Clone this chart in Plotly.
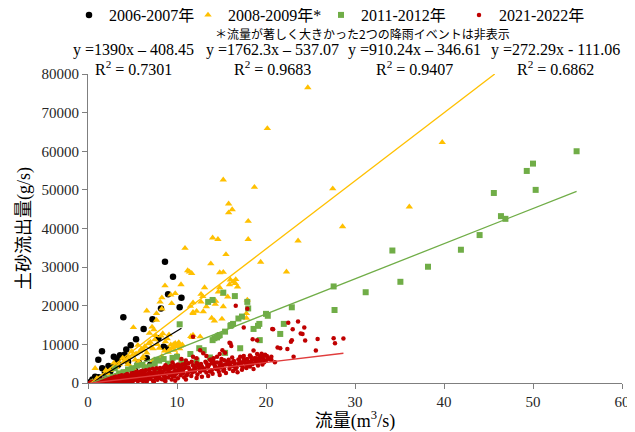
import plotly.graph_objects as go

# ---------------- data ----------------
series_names = ["2006-2007年", "2008-2009年*", "2011-2012年", "2021-2022年"]

black_x = [8.65, 9.55, 9.0, 10.5, 8.2, 10.3, 3.97, 7.25, 6.25, 5.4, 4.8, 4.3, 1.57, 1.16, 2.9, 3.8, 3.3, 2.3,
           1.6, 8.5, 8.8, 7.9, 6.6, 5.7, 4.5, 3.4, 2.7, 1.9, 0.8, 0.5, 5.3, 7.0, 4.1, 3.6, 0.3, 1.2, 2.5]
black_y = [31400, 27500, 23000, 22100, 19300, 19600, 17000, 16500, 14000, 11300, 9800, 8700, 8200, 6000, 6800,
           6800, 6000, 4400, 3800, 9400, 8900, 11600, 6400, 5300, 5500, 4700, 4100, 2700, 1600, 900, 3200, 4700,
           7300, 7200, 300, 1500, 3000]

yellow_x = [24.7, 20.15, 39.8, 15.2, 18.7, 27.5, 15.8, 16.2, 15.8, 36.1, 18.0, 28.6, 14.0, 14.6, 18.0, 23.6,
            10.9, 15.5, 13.8, 19.4, 11.2, 11.4, 11.65, 14.8, 15.2, 22.3, 8.65, 10.45, 9.8, 16.0, 16.3, 16.55,
            16.8, 16.6, 15.9, 14.8, 14.65, 12.7, 13.1, 15.7, 15.2, 17.9, 12.7, 12.9, 11.5, 11.8, 14.35, 14.3,
            8.3, 9.3, 9.4, 8.1, 8.3, 6.6, 7.7, 7.7, 11.8, 12.2, 13.3, 12.95, 15.2, 13.9, 14.2, 15.05, 17.8, 17.8,
            11.8, 11.8, 12.6, 5.1, 7.2, 7.4, 6.9, 8.2, 8.4, 9.6, 9.8, 10.1, 10.4, 10.6, 10.2, 9.9, 11.7, 11.55,
            9.3, 9.5, 7.3, 7.1, 6.3, 6.6, 6.1, 6.2, 5.7, 5.9, 4.8, 5.1, 4.4, 3.7, 3.0, 2.7, 1.9, 1.6, 0.8, 1.0,
            2.2, 2.5, 3.2, 3.5, 4.0, 4.3, 4.6, 5.0, 5.4, 5.8, 6.0, 6.4, 6.8, 7.0, 7.5, 7.8, 8.0, 8.6, 9.0, 9.2,
            8.7, 8.9, 9.1, 7.6, 5.6, 4.9, 3.9, 2.9, 2.0, 0.5, 0.3, 6.5, 7.3, 8.3, 9.7, 10.3, 10.0, 5.3, 4.5]
yellow_y = [76500, 65900, 62300, 52600, 50700, 50300, 46400, 44900, 44100, 45600, 41900, 40500, 37600, 37200,
            37200, 36800, 34900, 33300, 30900, 31300, 29100, 28800, 28400, 28600, 28700, 28800, 25200, 25500,
            23200, 26700, 26200, 25800, 24900, 26800, 25500, 24700, 23600, 23000, 24700, 22300, 23000, 21500,
            21000, 22400, 19900, 20800, 21200, 20400, 22100, 22800, 20600, 21000, 19200, 18700, 16300, 18000,
            18300, 18600, 19800, 18500, 19800, 16800, 16100, 16600, 18000, 16800, 18000, 12400, 12000, 14400,
            14500, 13800, 12900, 12200, 12800, 10000, 10300, 10000, 9600, 9900, 10500, 9500, 11800, 12100, 9900,
            9200, 8900, 9200, 8600, 7800, 6300, 6800, 5500, 5000, 4200, 3800, 3300, 2500, 1800, 1400, 700, 400,
            3800, 1200, 2500, 3300, 4000, 4800, 5500, 6000, 6700, 7200, 7600, 8100, 8800, 9500, 10200, 10600,
            11200, 10000, 9000, 8300, 8000, 8700, 10700, 11500, 12500, 12300, 9800, 8200, 6500, 5200, 3300, 400,
            150, 4200, 5800, 6900, 8500, 8900, 7300, 6000, 4800]

green_x = [54.9, 50.0, 49.3, 50.3, 45.6, 46.4, 46.9, 44.0, 41.9, 34.2, 38.2, 35.1, 31.2, 27.6, 27.7, 22.0, 22.9,
           20.0, 20.2, 19.25, 19.1, 18.6, 21.6, 19.3, 17.9, 18.0, 16.9, 17.3, 16.3, 16.1, 16.0, 15.2, 16.5, 13.5,
           14.0, 14.8, 14.5, 14.65, 15.4, 14.0, 14.2, 17.1, 15.4, 13.0, 13.7, 12.2, 10.3, 10.8, 6.1, 6.4, 7.7,
           3.0, 2.0, 2.8, 3.5, 4.0, 4.5, 5.0, 5.5, 7.0, 7.5, 8.0, 8.5, 9.0, 9.5, 10.0, 10.5, 1.2, 0.8, 6.2, 7.8,
           11.5, 12.5]
green_y = [60000, 56800, 54900, 50000, 49200, 43200, 42500, 38300, 34500, 34300, 30100, 26200, 23500, 25000,
           18900, 15300, 19600, 17900, 17400, 15300, 14800, 14000, 12700, 11100, 21000, 19300, 16700, 17200,
           15300, 15000, 14800, 23400, 22500, 21000, 21500, 12400, 11800, 12200, 13300, 11100, 11600, 9000,
           7800, 8500, 6600, 5800, 15200, 4600, 4700, 4000, 6000, 3800, 1200, 1600, 2500, 2800, 3500, 3800,
           4500, 4300, 5000, 5800, 6200, 5000, 6500, 6800, 5500, 500, 300, 2800, 3200, 7500, 9000]

red_x = [0.2, 0.4, 0.5, 0.6, 0.8, 0.9, 1.0, 1.1, 1.2, 1.3, 1.4, 1.5, 1.6, 1.7, 1.8, 1.9, 2.0, 2.1, 2.2, 2.3,
         2.4, 2.5, 2.6, 2.7, 2.8, 2.9, 3.0, 3.1, 3.2, 3.3, 3.4, 3.5, 3.6, 3.7, 3.8, 3.9, 4.0, 4.1, 4.2, 4.3,
         4.4, 4.5, 4.6, 4.7, 4.8, 4.9, 5.0, 5.1, 5.2, 5.3, 5.4, 5.5, 5.6, 5.7, 5.8, 5.9, 6.0, 6.1, 6.2, 6.3,
         6.4, 6.5, 6.6, 6.7, 6.8, 6.9, 7.0, 7.1, 7.2, 7.3, 7.4, 7.5, 7.6, 7.7, 7.8, 7.9, 8.0, 8.1, 8.2, 8.3,
         8.4, 8.5, 8.6, 8.7, 8.8, 8.9, 9.0, 9.1, 9.2, 9.3, 9.4, 9.5, 9.6, 9.7, 9.8, 9.9, 10.0, 10.1, 10.2,
         10.3, 10.4, 10.5, 10.6, 10.7, 10.8, 10.9, 11.0,
         11.2, 11.4, 11.6, 11.8, 12.0, 12.2, 12.3, 12.5, 12.7, 12.8, 13.0, 13.2, 13.3, 13.5, 13.7, 13.8, 14.0,
         14.2, 14.4, 14.5, 14.7, 14.9, 15.0, 15.2, 15.4, 15.5, 15.7, 15.9, 16.0, 16.2, 16.3, 16.5, 16.7, 16.8,
         17.0, 17.2, 17.3, 17.5, 17.7, 17.8, 18.0, 18.2, 18.3, 18.5, 18.6, 18.8, 19.0, 19.1, 19.3, 19.4, 19.6,
         19.7, 19.9, 20.0, 20.2, 19.5, 18.9, 18.4, 17.9, 17.4, 16.9, 16.4, 15.8, 15.3, 14.8, 14.3, 13.9, 13.4,
         12.9, 12.4, 11.9, 11.3,
         11.8, 16.0, 16.6, 17.9, 17.5, 20.7, 23.6, 22.5, 18.5, 21.3, 22.4, 15.9, 16.1, 15.1, 15.4, 14.8, 14.5,
         14.1, 12.6, 12.95, 13.3, 13.7, 12.2, 11.8, 11.65, 24.3, 24.1, 24.4, 22.8, 25.8, 27.6, 27.75, 28.7,
         25.6, 23.1, 17.1, 17.5, 18.2, 19.0, 10.5, 9.5, 8.7, 11.0, 20.6, 21.0, 20.8, 23.0, 22.9, 23.9, 21.6,
         19.8, 18.6, 19.0,
         0.3, 0.7, 1.0, 1.3, 1.6, 1.9, 2.2, 2.4, 2.6, 2.9, 3.1, 3.3, 3.5, 3.8, 4.0, 4.2, 4.4, 4.6, 4.9, 5.1,
         5.3, 5.5, 5.7, 5.9, 6.1, 6.3, 6.5, 6.7, 6.9, 7.1, 7.3, 7.5, 7.7, 7.9, 8.1, 8.3, 8.5, 8.7, 8.9, 9.1,
         9.3, 9.5, 9.7, 9.9, 10.1, 10.3, 10.5, 10.7, 10.9, 11.1, 11.3, 11.5, 11.7, 11.9, 12.1, 12.3, 12.6,
         12.8, 13.1, 13.3, 13.6, 13.9, 14.1, 14.3, 14.6, 14.9, 15.1, 15.3, 15.6, 15.8, 16.1, 16.4, 16.6, 16.9,
         17.1, 17.4, 17.6, 17.9, 18.1, 18.4, 18.7, 18.9, 19.2, 19.5, 19.8, 20.1, 20.4, 20.6, 3.6, 5.0, 6.2,
         7.4, 8.6, 9.8, 11.0, 12.2, 13.5, 14.8, 2.0, 4.5]
red_y = [30, 80, 200, 120, 250, 60, 300, 150, 420, 90, 350, 600, 200, 480, 700, 110, 380, 820, 560, 240, 900,
         650, 130, 1050, 430, 780, 1200, 300, 950, 600, 1350, 180, 1100, 750, 1500, 420, 1250, 900, 1700, 250,
         1400, 1050, 600, 1850, 1300, 350, 1600, 2000, 800, 1450, 2200, 1100, 500, 1800, 2400, 1250, 700, 2050,
         1550, 2600, 950, 1900, 400, 2300, 1400, 2800, 1100, 2100, 1700, 600, 2500, 3000, 1300, 2000, 850, 2700,
         1600, 3200, 2300, 1000, 2900, 1900, 3400, 550, 2500, 3600, 1400, 3000, 2100, 3800, 900, 2700, 4000,
         1700, 3300, 2400, 4300, 1200, 3600, 4500, 2000, 3100, 4800, 2600, 1500, 3900, 4200,
         2500, 3500, 1800, 4600, 3000, 5200, 2200, 3800, 4900, 1600, 3300, 5500, 2700, 4200, 3000, 6000, 2400,
         4700, 3600, 5300, 2900, 4000, 6200, 3200, 4800, 2600, 5600, 3700, 4400, 6600, 3100, 5100, 4000, 2800,
         5800, 4600, 3400, 6300, 5000, 3900, 5500, 4300, 6700, 4900, 3600, 5900, 5200, 4500, 6900, 5600, 4800,
         6200, 7300, 5800, 6500, 7600, 6400, 5200, 4700, 5400, 6100, 4300, 5000, 5900, 4500, 3900, 5100, 4400,
         3900, 4600, 3400, 4000,
         12000, 10300, 20000, 19200, 14400, 14000, 15900, 15600, 11300, 9200, 8800, 10400, 9600, 8500, 7800,
         7500, 6800, 6400, 8500, 7700, 7000, 6000, 6400, 6800, 5500, 14400, 12700, 11000, 10700, 11400, 11600,
         10300, 11500, 8400, 6800, 6800, 7000, 7100, 7500, 6200, 5300, 4600, 5800, 6000, 5400, 13900, 13900,
         11100, 12800, 9000, 7100, 8400, 11100,
         150, 400, 650, 550, 900, 1000, 1200, 400, 1400, 1500, 1700, 900, 1800, 2000, 600, 2100, 2300, 1600,
         2500, 700, 2700, 2900, 1000, 3000, 3200, 1800, 3300, 900, 3500, 2600, 3700, 1900, 3800, 1200, 3900,
         2600, 4000, 1500, 4200, 2500, 4400, 1800, 4600, 3100, 4800, 2800, 4100, 3500, 4900, 2000, 5100, 3200,
         2700, 4400, 3900, 5000, 2900, 4300, 3600, 5200, 4700, 3300, 5600, 4200, 3800, 5400, 4600, 3500, 4900,
         6000, 5300, 5700, 3700, 4900, 5300, 4100, 5900, 6200, 4900, 5800, 6400, 5300, 6000, 6600, 5400, 7000,
         6200, 6800, 300, 400, 500, 300, 700, 600, 900, 1300, 1800, 2100, 100, 200]

# trendline equations (as printed in the chart)
trend_slope = [1390.0, 1762.3, 910.24, 272.29]
trend_icept = [-408.45, -537.07, -346.61, -111.06]
trend_xmin = [0.3, 0.3, 0.5, 0.2]
trend_xmax = [10.5, 45.7, 54.9, 28.7]
eq_labels = ["y =1390x – 408.45", "y =1762.3x – 537.07", "y =910.24x – 346.61", "y =272.29x - 111.06"]
r2_labels = ["0.7301", "0.9683", "0.9407", "0.6862"]
eq_centers = [133, 272, 414, 555]       # reference-pixel centres of the equation texts
legend_text_left = [103, 222, 355, 493]  # reference-pixel left edge of legend texts

x_ticks = [0, 10, 20, 30, 40, 50, 60]
y_ticks = [0, 10000, 20000, 30000, 40000, 50000, 60000, 70000, 80000]

# ---------------- figure ----------------
OFF = 8                       # page body margin
W, H = 635 - OFF, 432 - OFF
L, R, T, B = 88 - OFF, 13, 74 - OFF, 49
PW, PH = W - L - R, H - T - B
serif = "Times New Roman, Liberation Serif, Noto Sans CJK JP, serif"
cjk = "Noto Sans CJK JP, sans-serif"


def px(xp):
    return (xp - OFF - L) / PW


def py(yp):
    return (H - B - (yp - OFF)) / PH


colors = ["#000000", "#FFC000", "#70AD47", "#C00000"]
line_colors = ["#000000", "#FFC000", "#70AD47", "#E03C3C"]
symbols = ["circle", "triangle-up", "square", "circle"]
sizes = [6.5, 6.5, 6, 4.5]
xs = [black_x, yellow_x, green_x, red_x]
ys = [black_y, yellow_y, green_y, red_y]
legend_ids = ["legend", "legend2", "legend3", "legend4"]

fig = go.Figure()
for i in range(4):
    fig.add_trace(go.Scatter(
        x=xs[i], y=ys[i], mode="markers", name=series_names[i], legend=legend_ids[i],
        marker=dict(symbol=symbols[i], size=sizes[i], color=colors[i], line=dict(width=0)),
    ))
for i in range(4):
    tx = [trend_xmin[i], trend_xmax[i]]
    ty = [trend_slope[i] * v + trend_icept[i] for v in tx]
    fig.add_trace(go.Scatter(
        x=tx, y=ty, mode="lines", showlegend=False, hoverinfo="skip",
        line=dict(color=line_colors[i], width=1.3),
    ))

annotations = []
for i in range(4):
    annotations.append(dict(
        text=eq_labels[i], x=px(eq_centers[i]), y=py(50), xref="paper", yref="paper",
        xanchor="center", yanchor="middle", showarrow=False,
        font=dict(family=serif, size=16, color="#000000"),
    ))
    annotations.append(dict(
        text="R<sup>2</sup> = " + r2_labels[i], x=px(eq_centers[i]), y=py(68), xref="paper", yref="paper",
        xanchor="center", yanchor="middle", showarrow=False,
        font=dict(family=serif, size=16, color="#000000"),
    ))
annotations.append(dict(
    text="＊流量が著しく大きかった2つの降雨イベントは非表示", x=px(362), y=py(34), xref="paper", yref="paper",
    xanchor="center", yanchor="middle", showarrow=False,
    font=dict(family=cjk, size=12, color="#000000"),
))

legend_common = dict(
    orientation="h", xref="container", yref="container",
    xanchor="left", yanchor="middle",
    font=dict(family=serif, size=16, color="#000000"),
    itemsizing="trace", bgcolor="rgba(0,0,0,0)", borderwidth=0,
)
legends = {}
for i, lid in enumerate(legend_ids):
    legends[lid] = dict(legend_common, x=(legend_text_left[i] - OFF - 34) / W, y=1 - (15 - OFF) / H)

fig.update_layout(
    width=W, height=H,
    margin=dict(l=L, r=R, t=T, b=B, autoexpand=False),
    paper_bgcolor="white", plot_bgcolor="white",
    showlegend=True,
    annotations=annotations,
    xaxis=dict(
        range=[0, 60], tickvals=x_ticks, showgrid=False, zeroline=False,
        showline=True, linecolor="#7F7F7F", linewidth=1,
        ticks="outside", ticklen=5, tickcolor="#7F7F7F",
        tickfont=dict(family=serif, size=15, color="#262626"),
        title=dict(text="流量(m<sup>3</sup>/s)", standoff=0,
                   font=dict(family=serif, size=18, color="#000000")),
        automargin=False,
    ),
    yaxis=dict(
        range=[0, 80000], tickvals=y_ticks, tickformat="d", showgrid=False, zeroline=False,
        showline=True, linecolor="#7F7F7F", linewidth=1,
        ticks="outside", ticklen=5, tickcolor="#7F7F7F",
        tickfont=dict(family=serif, size=15, color="#262626"),
        title=dict(text="土砂流出量(g/s)", standoff=6,
                   font=dict(family=serif, size=18, color="#000000")),
        automargin=False,
    ),
    **legends,
)

fig.write_html("out.html")
